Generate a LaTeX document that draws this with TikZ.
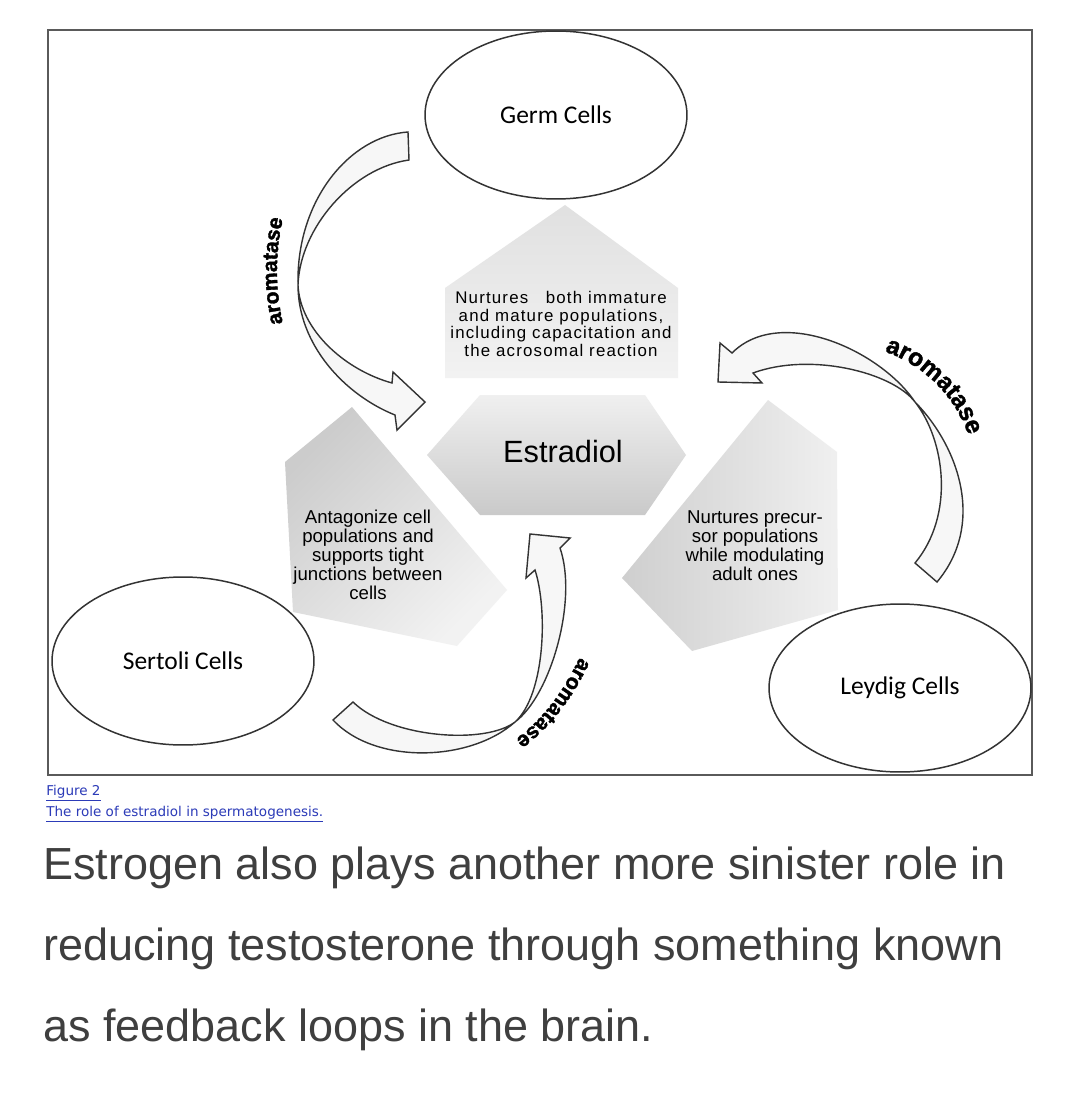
\documentclass[tikz,border=0pt]{standalone}
\usepackage{fontspec}
\setmainfont{Liberation Sans}
\newfontfamily\cellfont{Carlito}
\newfontfamily\capfont{DejaVu Sans}
\newfontfamily\arofam{Liberation Sans}[BoldFeatures={FakeBold=1.6}]
\usetikzlibrary{shapes.geometric,decorations.text}

\definecolor{edgegray}{HTML}{333333}
\definecolor{framegray}{HTML}{5A5A5A}
\definecolor{linkblue}{HTML}{2C3BB8}
\definecolor{bodygray}{HTML}{3F3F3F}
\definecolor{bandfill}{HTML}{F7F7F7}

\newcommand\arofont{\arofam\bfseries\fontsize{12}{12}\selectfont}
\newcommand\arofontbig{\arofam\bfseries\fontsize{14}{14}\selectfont}

\begin{document}
\begin{tikzpicture}[x=0.02cm,y=0.02cm,
  cell/.style={ellipse, draw=edgegray, line width=0.85pt, fill=white,
               minimum width=5.24cm, minimum height=3.36cm, inner sep=0pt,
               font=\cellfont\fontsize{14.5}{16}\selectfont},
  blurb/.style={align=center, inner sep=0pt},
  band/.style={fill=bandfill, draw=edgegray, line width=0.8pt, line join=miter},
  aro/.style={decorate, decoration={text along path, text align=center, text={|\arofont|aromatase}}},
  arobig/.style={decorate, decoration={text along path, text align=center, text={|\arofontbig|aromatase}}},
  para/.style={anchor=base west, inner sep=0pt, text=bodygray, font=\fontsize{25.6}{30}\selectfont},
  link/.style={anchor=base west, inner sep=0pt, text=linkblue, font=\capfont\fontsize{7.7}{9}\selectfont}
]
\useasboundingbox (0,0) rectangle (1080,-1098);
\fill[white] (0,0) rectangle (1080,-1098);

\draw[framegray, line width=0.9pt] (48,-30) rectangle (1032,-775);

% shaded plates
\shade[top color=black!12, bottom color=black!5]
  (565,-205) -- (678,-288) -- (678,-378) -- (445,-378) -- (445,-288) -- cycle;
\shade[top color=black!20, bottom color=black!5, shading angle=45]
  (352,-407) -- (507,-590) -- (457,-646) -- (293,-612) -- (285,-462) -- cycle;
\shade[left color=black!19, right color=black!6]
  (768,-400) -- (837,-452) -- (838,-610) -- (692,-651) -- (622,-578) -- cycle;
\shade[top color=black!6, bottom color=black!21]
  (427,-455) -- (480,-395) -- (645,-395) -- (686,-455) -- (645,-515) -- (480,-515) -- cycle;

\node[font=\fontsize{17.5}{20}\selectfont] (estradiol) at (563,-452) {Estradiol};
\node[blurb, font=\addfontfeature{LetterSpace=7}\fontsize{9.6}{10.2}\selectfont] (mature) at (561,-324)
  {Nurtures~~ both immature\\and mature populations,\\including capacitation and\\the acrosomal reaction};
\node[blurb, font=\fontsize{10.6}{9.6}\selectfont] (tight) at (368,-555)
  {Antagonize cell\\populations and\\supports tight\\junctions between\\cells};
\node[blurb, font=\fontsize{10.6}{9.4}\selectfont] (precursor) at (755,-546)
  {Nurtures precur-\\sor populations\\while modulating\\adult ones};

\node[cell] (germ) at (556,-115) {Germ Cells};
\node[cell] (sertoli) at (183,-661) {Sertoli Cells};
\node[cell] (leydig) at (900,-688) {Leydig Cells};

% germ -> estradiol
\draw[band] (408,-132) .. controls (350,-136) and (296,-200) .. (298,-285)
  .. controls (298,-345) and (345,-395) .. (395,-415)
  -- (397,-430) -- (425,-402) -- (393,-372) -- (392,-383)
  .. controls (345,-370) and (300,-330) .. (298,-285)
  .. controls (300,-228) and (352,-168) .. (409,-160) -- cycle;
% leydig -> estradiol
\draw[band] (937,-582) .. controls (985,-525) and (960,-448) .. (915,-402)
  .. controls (880,-350) and (780,-305) .. (732,-353)
  -- (720,-343) -- (718,-382) -- (762,-383) -- (753,-373)
  .. controls (810,-352) and (892,-372) .. (915,-402)
  .. controls (945,-440) and (955,-515) .. (915,-563) -- cycle;
% sertoli -> estradiol
\draw[band] (333,-720) .. controls (375,-765) and (470,-762) .. (515,-722)
  .. controls (551,-695) and (578,-600) .. (560,-548)
  -- (570,-538) -- (530,-534) -- (526,-578) -- (535,-570)
  .. controls (548,-610) and (545,-695) .. (515,-722)
  .. controls (485,-745) and (390,-738) .. (353,-702) -- cycle;

\path[aro] (511,-271) ++(202:234) arc[start angle=202, end angle=158, radius=234];
\path[arobig] (840,-480) ++(88:136) arc[start angle=88, end angle=2, radius=136];
\path[aro] (592,-630) .. controls (569,-685) and (543,-728) .. (490,-755);

\node[link] (figno) at (46,-795) {\underline{Figure 2}};
\node[link] (figtitle) at (46,-816) {\underline{The role of estradiol in spermatogenesis.}};

\node[para] (line1) at (43,-879) {Estrogen also plays another more sinister role in};
\node[para] (line2) at (43,-960) {reducing testosterone through something known};
\node[para] (line3) at (43,-1041) {as feedback loops in the brain.};
\end{tikzpicture}
\end{document}
